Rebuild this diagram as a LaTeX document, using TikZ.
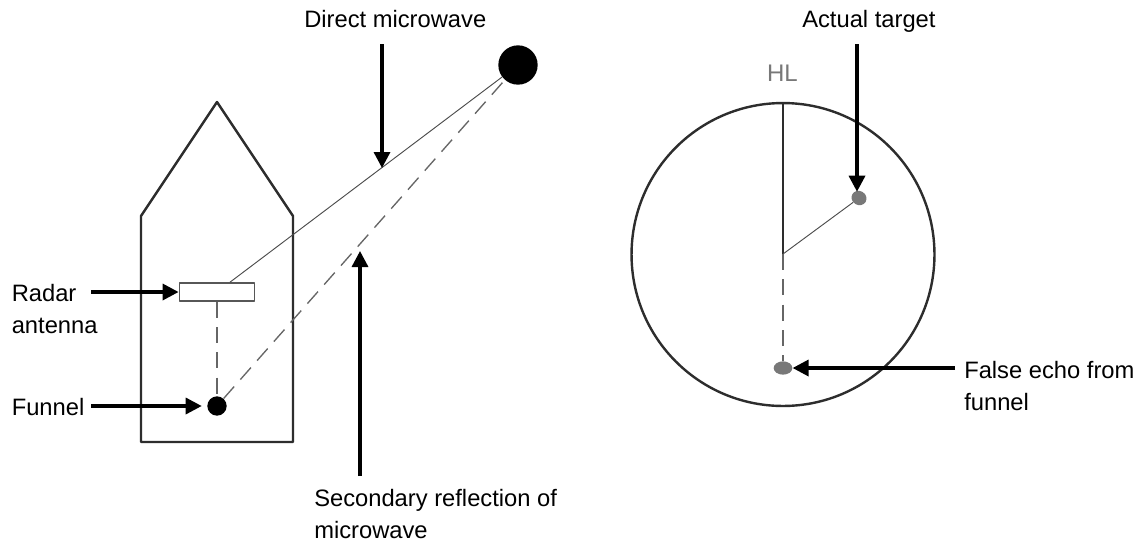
\documentclass[tikz,border=0pt]{standalone}
\usepackage{fontspec}
\usepackage{tikz}
\usetikzlibrary{arrows.meta}
\setmainfont{Liberation Sans}
\definecolor{myline}{RGB}{45,45,45}
\definecolor{myecho}{RGB}{120,120,120}
\tikzset{
  pointer/.style={line width=2.5pt,-{Triangle[length=12pt,width=12pt]}},
  hull/.style={line width=1.8pt,myline,line join=round},
  ray/.style={line width=0.7pt,myline!85},
  rayback/.style={line width=1pt,myecho!85!black,dash pattern=on 12pt off 7pt},
  label/.style={anchor=base west,inner sep=0pt,font=\fontsize{17.8}{24}\selectfont,align=left},
  echo/.style={ellipse,fill=myecho,inner sep=0pt}
}
\usetikzlibrary{shapes.geometric}
\begin{document}
\begin{tikzpicture}[x=0.75pt,y=-0.75pt,line join=round]
        \useasboundingbox (0,0) rectangle (1142,544);
        \fill[white] (0,0) rectangle (1142,544);
        \draw[hull] (141,442)--(293,442)--(293,216)--(217,102)--(141,216)--cycle;
        \node[draw=myline!80,line width=1.1pt,fill=white,minimum width=56.5pt,minimum height=13.5pt,inner sep=0pt] (antenna) at (217,292) {};
        \node[circle,fill=black,minimum size=14.5pt,inner sep=0pt] (funnel) at (217,406) {};
        \node[circle,fill=black,minimum size=29.5pt,inner sep=0pt] (target) at (518,65) {};
        \draw[ray] (antenna)--(target);
        \draw[rayback] (antenna)--(funnel);
        \draw[rayback] (funnel)--(target);

        \draw[hull] (783,254.5) circle (113.6pt);
        \coordinate (centre) at (783,254);
        \coordinate (heading) at (783,103);
        \node[echo,minimum width=11.5pt,minimum height=10.5pt,rotate=-30] (actual) at (859,198) {};
        \node[echo,minimum width=14pt,minimum height=10pt] (falseecho) at (783,368) {};
        \draw[hull] (centre)--(heading);
        \draw[ray] (centre)--(actual);
        \draw[rayback] (centre)--(falseecho);
        \node[anchor=base,inner sep=0pt,myecho,font=\fontsize{18}{20}\selectfont] (hl) at (782.5,81) {HL};

        \node[label] (directlabel) at (304,27.5) {Direct microwave};
        \node[label] (radarlabel) at (11.5,333.5) {Radar\\antenna};
        \node[label] (funnellabel) at (11.5,415) {Funnel};
        \node[label] (secondlabel) at (314,538) {Secondary reflection of\\microwave};
        \node[label] (actuallabel) at (802,27.5) {Actual target};
        \node[label] (echolabel) at (964,410.5) {False echo from\\funnel};

        \coordinate (directtail) at (382,44);
        \coordinate (directtip) at (382,168);
        \coordinate (secondtail) at (360,476);
        \coordinate (secondtip) at (360,251);
        \coordinate (radartail) at (91,292);
        \coordinate (funneltail) at (91,406);
        \coordinate (actualtail) at (857,44);
        \coordinate (echotail) at (955,368);
        \draw[pointer] (directtail)--(directtip);
        \draw[pointer] (secondtail)--(secondtip);
        \draw[pointer] (radartail)--(antenna.west);
        \draw[pointer,shorten >=4pt] (funneltail)--(funnel);
        \draw[pointer] (actualtail)--(actual.north -| actualtail);
        \draw[pointer] (echotail)--(falseecho);
      \end{tikzpicture}
\end{document}
